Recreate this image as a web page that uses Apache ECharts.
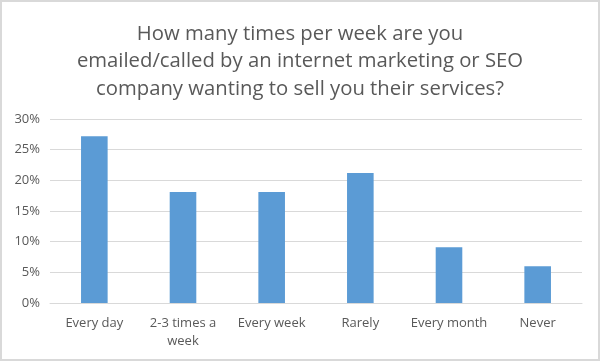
<!DOCTYPE html>
<html><head><meta charset="utf-8">
<script src="https://cdn.jsdelivr.net/npm/echarts@6/dist/echarts.min.js"></script>
<style>html,body{margin:0;padding:0;background:#fff}#c{width:600px;height:361px;box-sizing:border-box;border:2px solid #d9d9d9}</style>
</head><body><div id="c"></div>
<script>
var categories = ["Every day", "2-3 times a\nweek", "Every week", "Rarely", "Every month", "Never"];
var values = [27.2, 18.1, 18.1, 21.2, 9.1, 6.0];
var titleText = "How many times per week are you\nemailed/called by an internet marketing or SEO\ncompany wanting to sell you their services?";
var chart = echarts.init(document.getElementById('c'), null, {renderer: 'canvas'});
chart.setOption({
  animation: false,
  title: {
    text: titleText, left: 'center', top: 13,
    textStyle: {fontFamily: 'Open Sans', fontSize: 20.3, fontWeight: 'normal', color: '#595959', lineHeight: 27.5}
  },
  grid: {left: 48, right: 16, top: 117, bottom: 56, containLabel: false},
  xAxis: {
    type: 'category', data: categories,
    axisLine: {lineStyle: {color: '#d9d9d9'}},
    axisTick: {show: false},
    axisLabel: {color: '#595959', fontFamily: 'Open Sans', fontSize: 13, margin: 11, lineHeight: 18, interval: 0}
  },
  yAxis: {
    type: 'value', min: 0, max: 30, interval: 5,
    axisLabel: {formatter: '{value}%', color: '#595959', fontFamily: 'Open Sans', fontSize: 13, margin: 10},
    splitLine: {lineStyle: {color: '#d9d9d9'}},
    axisLine: {show: false}, axisTick: {show: false}
  },
  series: [{type: 'bar', data: values, barWidth: '30%', itemStyle: {color: '#5b9bd5'}}]
});
</script></body></html>
